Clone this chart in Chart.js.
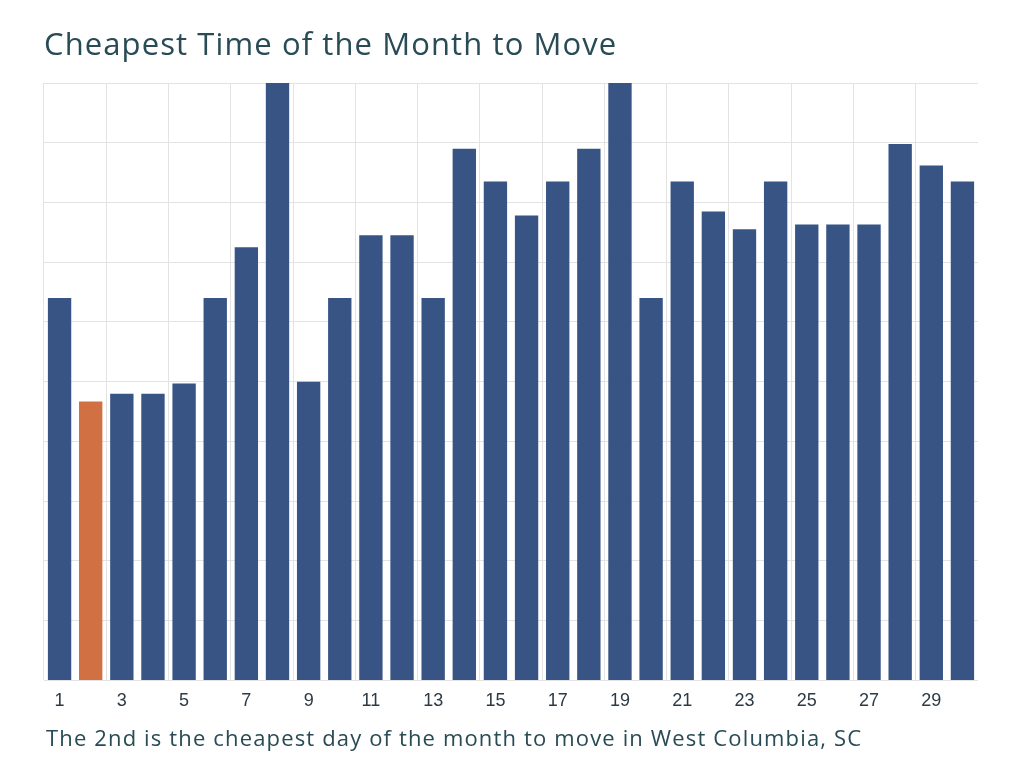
<!DOCTYPE html>
<html>
<head>
<meta charset="utf-8">
<script src="https://cdn.jsdelivr.net/npm/chart.js@4"></script>
<style>
  body { margin: 0; background: #fff; }
  #wrap { position: relative; width: 1024px; height: 768px; }
  #wrap canvas { position: absolute; left: 0; top: 0; }
  .title { position: absolute; left: 44px; top: 28px; line-height: 1; font-family: "Open Sans", sans-serif; font-size: 31px; letter-spacing: 1.1px; color: #284b55; white-space: nowrap; }
  .note { position: absolute; left: 46px; top: 726px; line-height: 1; font-family: "Open Sans", sans-serif; font-size: 22px; letter-spacing: 1.15px; color: #284b55; white-space: nowrap; }
</style>
</head>
<body>
<div id="wrap">
  <canvas id="myChart" width="1024" height="768"></canvas>
  <div class="title">Cheapest Time of the Month to Move</div>
  <div class="note">The 2nd is the cheapest day of the month to move in West Columbia, SC</div>
</div>
<script>
// days of the month
let days = [];
for (let d = 1; d <= 30; d++) days.push(String(d));

// relative moving cost per day (axis 0..10)
let costs = [6.4, 4.67, 4.8, 4.8, 4.97, 6.4, 7.25, 10.4, 5.0, 6.4,
             7.45, 7.45, 6.4, 8.9, 8.35, 7.78, 8.35, 8.9, 10.4, 6.4,
             8.35, 7.85, 7.55, 8.35, 7.63, 7.63, 7.63, 8.98, 8.62, 8.35];

let cheapestDay = '2';

let barColors = days.map(function(d){
    return d == cheapestDay ? '#d17042' : '#375485';
});

const data = {
    labels: days,
    datasets: [
        {
            label: 'Cost',
            data: costs,
            backgroundColor: barColors,
            barPercentage: 0.75,
            categoryPercentage: 1.0
        }
    ]
};

const config = {
    type: 'bar',
    data: data,
    options: {
        responsive: false,
        animation: false,
        layout: {
            padding: { left: 44, right: 46, top: 83, bottom: 46 }
        },
        plugins: {
            legend: { display: false },
            tooltip: { enabled: false }
        },
        scales: {
            x: {
                grid: {
                    offset: true,
                    drawTicks: false,
                    // a line every second day, at the left edge of odd days
                    color: function(ctx) {
                        return ctx.index % 2 == 0 ? '#e3e3e3' : 'rgba(0,0,0,0)';
                    }
                },
                border: { display: false },
                ticks: {
                    autoSkip: false,
                    maxRotation: 0,
                    padding: 10,
                    color: '#2c3a45',
                    font: { family: 'Liberation Sans', size: 18 },
                    callback: function(value, index) {
                        return index % 2 == 0 ? days[index] : '';
                    }
                }
            },
            y: {
                min: 0,
                max: 10,
                ticks: { display: false, stepSize: 1 },
                grid: { color: '#e3e3e3', drawTicks: false },
                border: { display: false }
            }
        }
    }
};

const myChart = new Chart(document.getElementById('myChart'), config);
</script>
</body>
</html>
